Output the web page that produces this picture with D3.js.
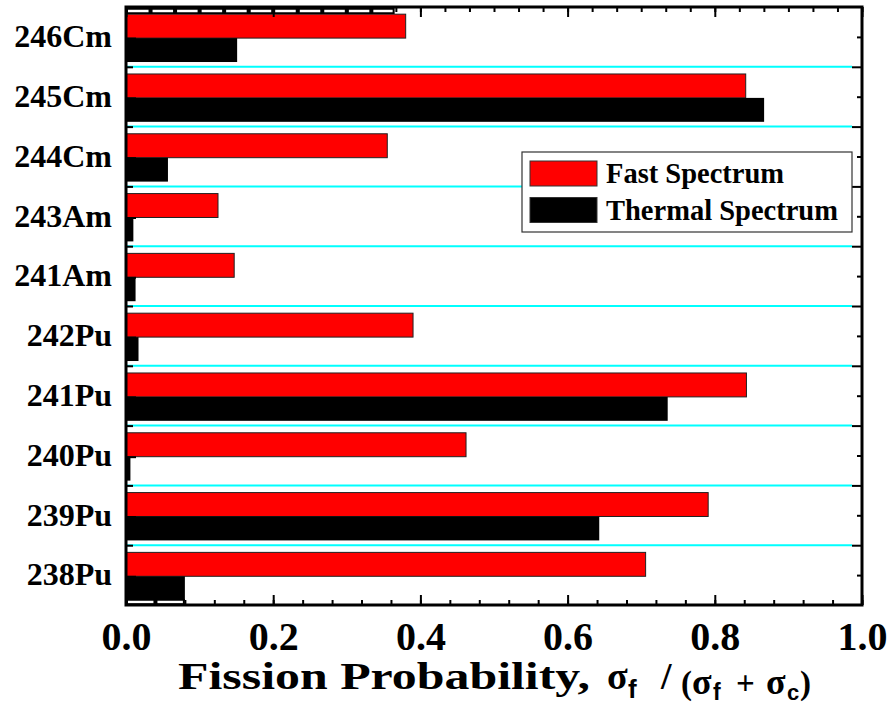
<!DOCTYPE html>
<html>
<head>
<meta charset="utf-8">
<script src="https://cdn.jsdelivr.net/npm/d3@7"></script>
<style>
  body { margin: 0; background: #fff; }
  svg { display: block; }
</style>
</head>
<body>
<div id="chart"></div>
<script>
// data (top row first)
const isotopes = ["246Cm", "245Cm", "244Cm", "243Am", "241Am", "242Pu", "241Pu", "240Pu", "239Pu", "238Pu"];
const fastSpectrum = [0.380, 0.842, 0.355, 0.125, 0.147, 0.390, 0.843, 0.462, 0.791, 0.706];
const thermalSpectrum = [0.151, 0.867, 0.057, 0.010, 0.013, 0.017, 0.736, 0.006, 0.643, 0.080];
const xMajorTicks = [0.0, 0.2, 0.4, 0.6, 0.8, 1.0];
const seriesNames = ["Fast Spectrum", "Thermal Spectrum"];
const seriesColors = ["#ff0000", "#000000"];

// GLOBAL CONFIGS
var w = 890;
var h = 707;
var plotL = 126, plotR = 862, plotT = 7, plotB = 605;
var serif = "'Liberation Serif', 'Times New Roman', serif";
var sans = "'Liberation Sans', Arial, sans-serif";

var svg = d3.select("#chart")
  .append("svg")
  .attr("width", w)
  .attr("height", h);

var x = d3.scaleLinear().domain([0, 1]).range([plotL, plotR]);
var y = d3.scaleBand().domain(isotopes).range([plotT, plotB]);
var bw = y.bandwidth();
var n = isotopes.length;
// row edges as a linear scale, for grid lines and ticks
var yEdge = d3.scaleLinear().domain([0, n]).range([plotT, plotB]);

// cyan separators between rows
svg.append("g")
  .selectAll("line")
  .data(d3.range(1, n))
  .enter()
  .append("line")
  .attr("x1", x(0))
  .attr("x2", x(1) - 10)
  .attr("y1", d => yEdge(d))
  .attr("y2", d => yEdge(d))
  .attr("stroke", "#00ffff")
  .attr("stroke-width", 2);

// bars
var rows = isotopes.map((d, i) => ({name: d, fast: fastSpectrum[i], thermal: thermalSpectrum[i]}));

svg.append("g")
  .selectAll("rect")
  .data(rows)
  .enter()
  .append("rect")
  .attr("x", x(0))
  .attr("y", d => y(d.name) + bw * 0.12)
  .attr("width", d => x(d.fast) - x(0))
  .attr("height", bw * 0.4)
  .attr("fill", seriesColors[0])
  .attr("stroke", "#222")
  .attr("stroke-width", 1);

svg.append("g")
  .selectAll("rect")
  .data(rows)
  .enter()
  .append("rect")
  .attr("x", x(0))
  .attr("y", d => y(d.name) + bw * 0.52)
  .attr("width", d => x(d.thermal) - x(0))
  .attr("height", bw * 0.4)
  .attr("fill", seriesColors[1]);

// dark strips along top / bottom edge where bars touch the frame
function edgeStrip(yTop, hgt, yDash, upTo, ticks) {
  svg.append("rect")
    .attr("x", x(0)).attr("y", yTop)
    .attr("width", x(upTo) - x(0)).attr("height", hgt)
    .attr("fill", "#000");
  var segs = [];
  for (var i = 0; i < ticks.length - 1; i++) {
    if (ticks[i] >= upTo) break;
    segs.push([ticks[i], Math.min(ticks[i + 1], upTo)]);
  }
  svg.append("g").selectAll("line")
    .data(segs)
    .enter()
    .append("line")
    .attr("x1", d => x(d[0]) + 2)
    .attr("x2", d => x(d[1]) - 2)
    .attr("y1", yDash).attr("y2", yDash)
    .attr("stroke", "#fff")
    .attr("stroke-width", 2.5);
}
var topMinor = d3.range(31).map(i => i / 30);
var bottomMinor = d3.range(26).map(i => i * 0.04);
edgeStrip(plotT, 7, plotT + 4, fastSpectrum[0] - 0.015, topMinor);
edgeStrip(plotB - 6, 6, plotB - 3, thermalSpectrum[n - 1], bottomMinor);

// frame
svg.append("rect")
  .attr("x", plotL).attr("y", plotT)
  .attr("width", plotR - plotL).attr("height", plotB - plotT)
  .attr("fill", "none")
  .attr("stroke", "#000")
  .attr("stroke-width", 3);

function styleAxis(g) {
  g.select(".domain").remove();
  g.selectAll(".tick line").attr("stroke", "#000").attr("stroke-width", 2);
}

// bottom axis
svg.append("g")
  .attr("transform", "translate(0," + plotB + ")")
  .call(d3.axisBottom(x).tickValues(bottomMinor).tickSize(-5).tickFormat(""))
  .call(styleAxis);
svg.append("g")
  .attr("transform", "translate(0," + plotB + ")")
  .call(d3.axisBottom(x).tickValues(xMajorTicks).tickSize(-10).tickPadding(17).tickFormat(d3.format(".1f")))
  .call(styleAxis)
  .selectAll("text")
  .attr("font-family", serif)
  .attr("font-weight", "bold")
  .attr("font-size", 40)
  .attr("fill", "#000");

// top axis
svg.append("g")
  .attr("transform", "translate(0," + plotT + ")")
  .call(d3.axisTop(x).tickValues(topMinor).tickSize(-5).tickFormat(""))
  .call(styleAxis);
svg.append("g")
  .attr("transform", "translate(0," + plotT + ")")
  .call(d3.axisTop(x).tickValues(xMajorTicks).tickSize(-10).tickFormat(""))
  .call(styleAxis);

// right axis
svg.append("g")
  .attr("transform", "translate(" + plotR + ",0)")
  .call(d3.axisRight(yEdge).tickValues(d3.range(1, n)).tickSize(-10).tickFormat(""))
  .call(styleAxis);
svg.append("g")
  .attr("transform", "translate(" + plotR + ",0)")
  .call(d3.axisRight(yEdge).tickValues(d3.range(n).map(i => i + 0.5)).tickSize(-5).tickFormat(""))
  .call(styleAxis);

// left axis
svg.append("g")
  .attr("transform", "translate(" + plotL + ",0)")
  .call(d3.axisLeft(yEdge).tickValues(d3.range(1, n)).tickSize(-7).tickFormat(""))
  .call(styleAxis);
svg.append("g")
  .attr("transform", "translate(" + plotL + ",0)")
  .call(d3.axisLeft(yEdge).tickValues(d3.range(n).map(i => i + 0.52)).tickSize(-10).tickFormat(""))
  .call(styleAxis);
svg.append("g")
  .attr("transform", "translate(" + plotL + ",0)")
  .call(d3.axisLeft(y).tickSize(0).tickPadding(14))
  .call(g => g.select(".domain").remove())
  .selectAll("text")
  .attr("font-family", serif)
  .attr("font-weight", "bold")
  .attr("font-size", 32)
  .attr("fill", "#000");

// legend
var lg = svg.append("g").attr("transform", "translate(522,152)");
lg.append("rect")
  .attr("width", 330).attr("height", 80)
  .attr("fill", "#fff")
  .attr("stroke", "#333")
  .attr("stroke-width", 1.2);
var items = lg.selectAll("g.item")
  .data(seriesNames)
  .enter()
  .append("g")
  .attr("class", "item")
  .attr("transform", (d, i) => "translate(8," + (9 + i * 36.5) + ")");
items.append("rect")
  .attr("width", 67).attr("height", 25)
  .attr("fill", (d, i) => seriesColors[i])
  .attr("stroke", "#333")
  .attr("stroke-width", 1);
items.append("text")
  .attr("x", 76).attr("y", 22)
  .attr("font-family", serif)
  .attr("font-weight", "bold")
  .attr("font-size", 28.5)
  .attr("fill", "#000")
  .text(d => d);

// x axis title: main part, then sigma_f / (sigma_f + sigma_c)
var title = svg.append("g")
  .attr("font-family", serif)
  .attr("font-weight", "bold")
  .attr("fill", "#000");
var titleParts = [
  {t: "Fission Probability,", x: 178, y: 689, s: 38, len: 412},
  {t: "σ", x: 607, y: 689, s: 38},
  {t: "f", x: 628, y: 698, s: 26, f: sans},
  {t: "/", x: 661, y: 689, s: 38},
  {t: "(", x: 681, y: 694, s: 33},
  {t: "σ", x: 692, y: 694, s: 36},
  {t: "f", x: 713, y: 700, s: 23, f: sans},
  {t: "+", x: 736, y: 694, s: 33},
  {t: "σ", x: 766, y: 694, s: 36},
  {t: "c", x: 787, y: 700, s: 22, f: sans},
  {t: ")", x: 800, y: 694, s: 33}
];
title.selectAll("text")
  .data(titleParts)
  .enter()
  .append("text")
  .attr("x", d => d.x)
  .attr("y", d => d.y)
  .attr("font-size", d => d.s)
  .attr("font-family", d => d.f || null)
  .attr("textLength", d => d.len || null)
  .attr("lengthAdjust", d => d.len ? "spacingAndGlyphs" : null)
  .text(d => d.t);
</script>
</body>
</html>
